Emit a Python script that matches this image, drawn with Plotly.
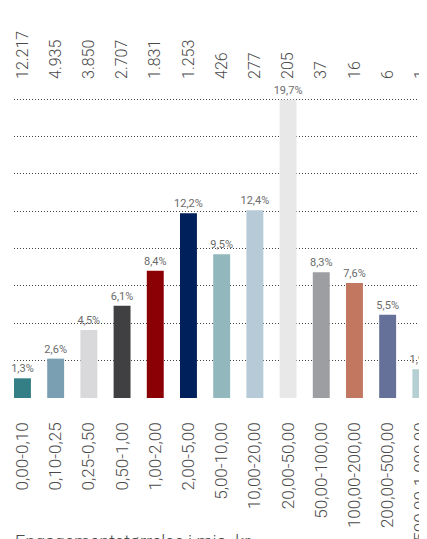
import plotly.graph_objects as go

categories = ["0,00-0,10", "0,10-0,25", "0,25-0,50", "0,50-1,00", "1,00-2,00",
              "2,00-5,00", "5,00-10,00", "10,00-20,00", "20,00-50,00",
              "50,00-100,00", "100,00-200,00", "200,00-500,00", "500,00-1.000,00"]
shares = [1.3, 2.6, 4.5, 6.1, 8.4, 12.2, 9.5, 12.4, 19.7, 8.3, 7.6, 5.5, 1.9]
counts = ["12.217", "4.935", "3.850", "2.707", "1.831", "1.253", "426", "277",
          "205", "37", "16", "6", "1"]
colors = ["#347f86", "#7a9fb3", "#d9d9db", "#404042", "#8b0005", "#00205b",
          "#92b7bd", "#b6cbd7", "#e8e8e8", "#9d9ea2", "#c17760", "#667199",
          "#b5cfd3"]
axis_title = "Engagementstørrelse i mio. kr."

FONT = "Roboto"
TXT = "#4a4a4a"

idx = list(range(len(categories)))
labels = [f"{v:.1f}".replace(".", ",") + "%" for v in shares]

fig = go.Figure()
fig.add_trace(go.Bar(
    x=idx, y=shares, marker=dict(color=colors, line=dict(width=0)),
    width=0.51, text=labels, textposition="outside", textangle=0,
    constraintext="none",
    textfont=dict(family=FONT, size=11, color="#6b6b6b"),
    outsidetextfont=dict(family=FONT, size=11, color="#6b6b6b"),
    cliponaxis=False, hoverinfo="skip", showlegend=False,
))
# invisible trace to carry the top axis
fig.add_trace(go.Scatter(x=idx, y=[0] * len(idx), xaxis="x2", mode="markers",
                         marker=dict(opacity=0), showlegend=False, hoverinfo="skip"))

xr = [-0.255, 12.185]
ymax = 19.75
fig.update_layout(
    width=419, height=531, autosize=False,
    margin=dict(l=6, r=0, t=85, b=140, pad=0),
    plot_bgcolor="white", paper_bgcolor="white",
    font=dict(family=FONT, color=TXT),
    xaxis=dict(range=xr, tickmode="array", tickvals=idx, ticktext=categories,
               tickangle=-90, showgrid=False, zeroline=False, showline=False,
               ticks="", ticklabelstandoff=19, ticklabeloverflow="allow",
               automargin=False,
               tickfont=dict(family=FONT, size=17, color=TXT, weight=300)),
    xaxis2=dict(range=xr, overlaying="x", side="top", anchor="y",
                tickmode="array", tickvals=idx, ticktext=counts, tickangle=-90,
                showgrid=False, zeroline=False, showline=False, ticks="",
                ticklabelstandoff=13, ticklabeloverflow="allow",
                automargin=False,
                tickfont=dict(family=FONT, size=16, color=TXT, weight=300)),
    yaxis=dict(range=[-0.066, 20.148], tickmode="array",
               tickvals=[i * ymax / 8 for i in range(9)], automargin=False,
               showticklabels=False, showgrid=True, gridcolor="#444444",
               griddash="1px,2px", gridwidth=1, zeroline=False, showline=False),
    annotations=[dict(text=axis_title, xref="paper", yref="paper", x=0,
                      y=(531 - 140 - 521) / 306,
                      xanchor="left", yanchor="top", showarrow=False, xshift=-1,
                      font=dict(family=FONT, size=18, color=TXT, weight=300))],
)

fig.write_html("out.html")
